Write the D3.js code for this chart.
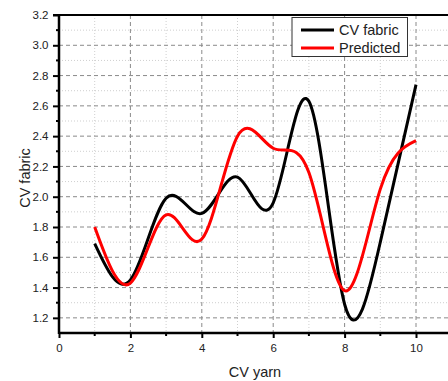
<!DOCTYPE html>
<html>
<head>
<meta charset="utf-8">
<script src="https://cdn.jsdelivr.net/npm/d3@7"></script>
<style>
  body { margin: 0; background: #fff; }
  text { font-family: "Liberation Sans", Arial, sans-serif; fill: #222; }
</style>
</head>
<body>
<script>
// data
var cvYarn = [1, 2, 3, 4, 5, 6, 7, 8, 9, 10];
var cvFabric = [1.69, 1.45, 1.99, 1.89, 2.13, 1.96, 2.63, 1.29, 1.70, 2.74];
var predicted = [1.80, 1.43, 1.88, 1.72, 2.40, 2.32, 2.16, 1.38, 2.05, 2.37];
var xTicks = [0, 2, 4, 6, 8, 10];
var yTicks = [1.2, 1.4, 1.6, 1.8, 2.0, 2.2, 2.4, 2.6, 2.8, 3.0, 3.2];
var seriesNames = ["CV fabric", "Predicted"];
var seriesColors = ["#000000", "#ff0000"];

var width = 448, height = 381;
var plotLeft = 59, plotTop = 15, plotBottom = 333;

var x = d3.scaleLinear().domain([0, 11]).range([plotLeft, plotLeft + 11 * 35.7]);
var y = d3.scaleLinear().domain([1.1, 3.2]).range([plotBottom, plotTop]);

var svg = d3.select("body").append("svg")
    .attr("width", width)
    .attr("height", height);

// minor grid (dotted)
var xMinor = d3.range(1, 11, 2);
var yMinor = d3.range(1.3, 3.2, 0.2).map(v => +v.toFixed(1));
svg.append("g").selectAll("line").data(xMinor).enter().append("line")
    .attr("x1", d => x(d)).attr("x2", d => x(d)).attr("y1", plotTop).attr("y2", plotBottom)
    .attr("stroke", "#cfcfcf").attr("stroke-dasharray", "1,2");
svg.append("g").selectAll("line").data(yMinor).enter().append("line")
    .attr("x1", plotLeft).attr("x2", width).attr("y1", d => y(d)).attr("y2", d => y(d))
    .attr("stroke", "#cfcfcf").attr("stroke-dasharray", "1,2");

// major grid (dashed)
svg.append("g").selectAll("line").data(xTicks.slice(1)).enter().append("line")
    .attr("x1", d => x(d)).attr("x2", d => x(d)).attr("y1", plotTop).attr("y2", plotBottom)
    .attr("stroke", "#8a8a8a").attr("stroke-dasharray", "4,3");
svg.append("g").selectAll("line").data(yTicks.slice(0, -1)).enter().append("line")
    .attr("x1", plotLeft).attr("x2", width).attr("y1", d => y(d)).attr("y2", d => y(d))
    .attr("stroke", "#8a8a8a").attr("stroke-dasharray", "4,3");

// curves
var line = d3.line()
    .x((d, i) => x(cvYarn[i]))
    .y(d => y(d))
    .curve(d3.curveNatural);

[cvFabric, predicted].forEach(function(series, k) {
    svg.append("path")
        .datum(series)
        .attr("d", line)
        .attr("fill", "none")
        .attr("stroke", seriesColors[k])
        .attr("stroke-width", 3);
});

// axes
var xAxis = d3.axisBottom(x).tickValues(xTicks).tickSize(5).tickFormat(d3.format("d"));
var yAxis = d3.axisLeft(y).tickValues(yTicks).tickSize(6).tickFormat(d3.format(".1f"));

var gx = svg.append("g").attr("transform", "translate(0," + plotBottom + ")").call(xAxis);
var gy = svg.append("g").attr("transform", "translate(" + plotLeft + ",0)").call(yAxis);
[gx, gy].forEach(function(g) {
    g.select(".domain").remove();
    g.selectAll(".tick line").attr("stroke", "#000").attr("stroke-width", 2);
    g.selectAll(".tick text").attr("font-size", 11.5).attr("fill", "#222")
        .style("font-family", "'Liberation Sans', Arial, sans-serif");
});
gx.selectAll(".tick text").attr("y", 9).attr("dy", "0.9em");
gy.selectAll(".tick text").attr("x", -10.5);

// minor ticks
svg.append("g").selectAll("line").data(xMinor).enter().append("line")
    .attr("x1", d => x(d)).attr("x2", d => x(d)).attr("y1", plotBottom).attr("y2", plotBottom + 3)
    .attr("stroke", "#000").attr("stroke-width", 2);
svg.append("g").selectAll("line").data(yMinor).enter().append("line")
    .attr("x1", plotLeft - 3).attr("x2", plotLeft).attr("y1", d => y(d)).attr("y2", d => y(d))
    .attr("stroke", "#000").attr("stroke-width", 2);

// frame lines
svg.append("line").attr("x1", plotLeft).attr("x2", width).attr("y1", plotBottom).attr("y2", plotBottom)
    .attr("stroke", "#000").attr("stroke-width", 2.5);
svg.append("line").attr("x1", plotLeft - 6).attr("x2", width).attr("y1", plotTop).attr("y2", plotTop)
    .attr("stroke", "#000").attr("stroke-width", 2);
svg.append("line").attr("x1", plotLeft).attr("x2", plotLeft).attr("y1", plotTop).attr("y2", plotBottom + 1)
    .attr("stroke", "#000").attr("stroke-width", 2.5);

// axis titles
svg.append("text")
    .attr("x", 255).attr("y", 377)
    .attr("text-anchor", "middle")
    .attr("font-size", 14.5)
    .text("CV yarn");
svg.append("text")
    .attr("transform", "translate(30,178) rotate(-90)")
    .attr("text-anchor", "middle")
    .attr("font-size", 14.5)
    .text("CV fabric");

// legend
var lg = svg.append("g").attr("transform", "translate(292,17.5)");
lg.append("rect")
    .attr("width", 115.5).attr("height", 39)
    .attr("fill", "#fff").attr("stroke", "#333").attr("stroke-width", 1);
seriesNames.forEach(function(name, k) {
    var yy = 12.5 + k * 18;
    lg.append("line")
        .attr("x1", 9).attr("x2", 42).attr("y1", yy).attr("y2", yy)
        .attr("stroke", seriesColors[k]).attr("stroke-width", 3);
    lg.append("text")
        .attr("x", 47).attr("y", yy + 5)
        .attr("font-size", 14.5)
        .attr("fill", "#111")
        .text(name);
});
</script>
</body>
</html>
